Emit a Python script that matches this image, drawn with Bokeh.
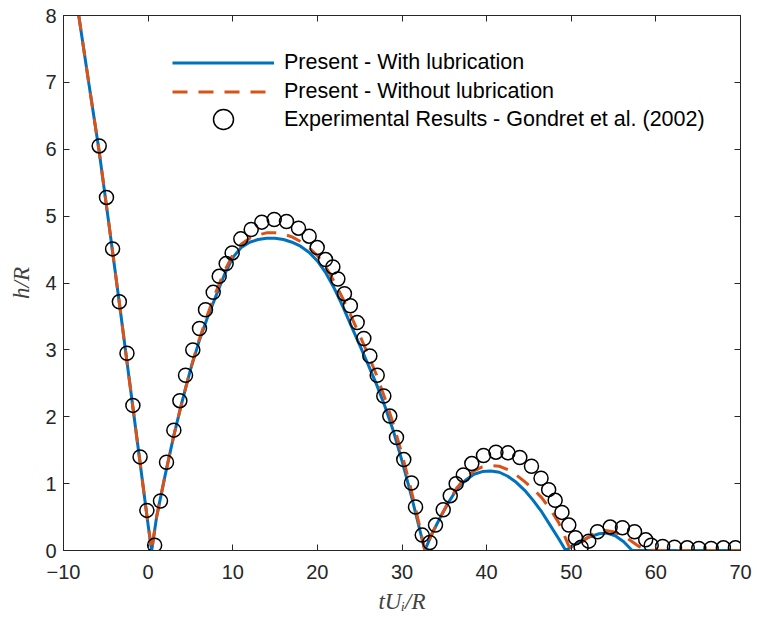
from bokeh.plotting import figure
from bokeh.models import (LinearAxis, Legend, LegendItem, Range1d, FixedTicker,
                          ColumnDataSource)
from bokeh.embed import file_html
from bokeh.resources import INLINE

# ---------------- data ----------------
x_ticks = [-10, 0, 10, 20, 30, 40, 50, 60, 70]
y_ticks = [0, 1, 2, 3, 4, 5, 6, 7, 8]

exp_x = [-5.78, -4.92, -4.2, -3.4, -2.5, -1.8, -0.95, -0.15, 0.77, 1.46, 2.17, 3.04, 3.75,
         4.42, 5.28, 6.07, 6.78, 7.69, 8.4, 9.22, 9.93, 10.95, 12.18, 13.43, 14.9, 16.35,
         17.77, 19.03, 19.98, 20.96, 21.83, 22.42, 23.2, 23.9, 24.7, 25.49, 26.2, 27.07,
         27.85, 28.56, 29.35, 30.21, 31.12, 31.6, 32.39, 33.29, 33.96, 34.87, 35.7, 36.4,
         37.25, 38.25, 39.63, 41.1, 42.52, 43.92, 45.3, 46.43, 47.33, 48.1, 48.9, 49.71,
         50.5, 51.17, 52.07, 53.1, 54.6, 56.05, 57.48, 58.8, 59.45, 60.8, 62.2, 63.7,
         65.07, 66.53, 67.98, 69.4]
exp_y = [6.05, 5.28, 4.51, 3.72, 2.95, 2.17, 1.40, 0.60, 0.08, 0.74, 1.32, 1.80, 2.24,
         2.62, 3.00, 3.32, 3.60, 3.86, 4.10, 4.29, 4.45, 4.66, 4.80, 4.91, 4.95, 4.92,
         4.82, 4.70, 4.53, 4.35, 4.24, 4.06, 3.84, 3.66, 3.41, 3.17, 2.91, 2.62,
         2.31, 2.01, 1.69, 1.36, 1.01, 0.65, 0.23, 0.12, 0.38, 0.61, 0.82, 1.00,
         1.13, 1.30, 1.42, 1.47, 1.46, 1.39, 1.26, 1.08, 0.91, 0.75, 0.57, 0.38,
         0.19, 0.05, 0.14, 0.28, 0.35, 0.34, 0.28, 0.16, 0.08, 0.06, 0.05, 0.04,
         0.03, 0.03, 0.04, 0.04]

with_x = [-8.2, -7.0, -5.8, -4.6, -3.4, -2.2, -1.0, 0.0, 0.42, 1, 2, 3, 4, 5, 6, 7, 8, 9,
          10, 11, 12, 13, 14, 15, 16, 17, 18, 19, 20, 21, 22, 23, 24, 25, 26, 27, 28, 29,
          30, 31, 32, 32.7, 33.5, 34.5, 35.5, 36.5, 37.5, 38.5, 39.5, 40.5, 41.5, 42.5,
          43.5, 44.5, 45.5, 46.5, 47.5, 48.5, 49.35, 50.3, 51.3, 52.3, 53.3, 54.2, 55.2,
          56.2, 57.2, 60, 65, 70]
with_y = [8.0, 6.98, 5.98, 4.85, 3.7, 2.53, 1.36, 0.38, 0.0, 0.5, 1.12, 1.7, 2.22, 2.7,
          3.12, 3.48, 3.8, 4.12, 4.38, 4.53, 4.61, 4.65, 4.67, 4.67, 4.65, 4.61, 4.55,
          4.46, 4.33, 4.15, 3.92, 3.65, 3.36, 3.07, 2.78, 2.48, 2.15, 1.78, 1.34, 0.87,
          0.36, 0.0, 0.24, 0.49, 0.72, 0.92, 1.05, 1.14, 1.18, 1.19, 1.17, 1.11, 1.02,
          0.9, 0.75, 0.58, 0.38, 0.18, 0.0, 0.08, 0.15, 0.21, 0.25, 0.26, 0.22, 0.13,
          0.0, 0.0, 0.0, 0.0]

without_x = [-8.2, -7.0, -5.8, -4.6, -3.4, -2.2, -1.0, 0.0, 0.42, 1, 2, 3, 4, 5, 6, 7, 8,
             9, 10, 11, 12, 13, 14, 15, 16, 17, 18, 19, 20, 21, 22, 23, 24, 25, 26, 27, 28,
             29, 30, 31, 32, 32.7, 33.5, 34.5, 35.5, 36.5, 37.5, 38.5, 39.5, 40.5, 41.5,
             42.5, 43.5, 44.5, 45.5, 46.5, 47.5, 48.5, 49.2, 49.7, 50.2, 51, 52, 53, 54,
             55, 56, 57, 58, 59, 60, 65, 70]
without_y = [8.0, 6.98, 5.98, 4.85, 3.7, 2.53, 1.36, 0.38, 0.0, 0.5, 1.12, 1.7, 2.22, 2.71,
             3.14, 3.52, 3.86, 4.17, 4.42, 4.58, 4.67, 4.72, 4.75, 4.75, 4.73, 4.69, 4.62,
             4.53, 4.41, 4.24, 4.02, 3.77, 3.5, 3.22, 2.93, 2.62, 2.27, 1.88, 1.44, 0.95,
             0.41, 0.0, 0.24, 0.49, 0.73, 0.94, 1.09, 1.19, 1.25, 1.27, 1.26, 1.21, 1.13,
             1.03, 0.92, 0.79, 0.62, 0.42, 0.22, 0.07, 0.03, 0.1, 0.2, 0.27, 0.3, 0.28,
             0.23, 0.15, 0.06, 0.01, 0.0, 0.0, 0.0]

labels = ["Present - With lubrication",
          "Present - Without lubrication",
          "Experimental Results - Gondret et al. (2002)"]

BLUE = "#0072BD"
ORANGE = "#D95319"
AX = "#262626"

# ---------------- figure ----------------
p = figure(frame_width=677, frame_height=535,
           x_range=Range1d(-10, 70), y_range=Range1d(0, 8),
           output_backend="svg", toolbar_location=None,
           min_border_left=63, min_border_top=15, min_border_right=12,
           min_border_bottom=0)

p.xgrid.visible = False
p.ygrid.visible = False
p.outline_line_color = AX
p.outline_line_width = 1
p.background_fill_color = "white"
p.border_fill_color = "white"

p.xaxis.ticker = FixedTicker(ticks=x_ticks)
p.yaxis.ticker = FixedTicker(ticks=y_ticks)

for ax in (p.xaxis[0], p.yaxis[0]):
    ax.major_tick_in = 6
    ax.major_tick_out = 0
    ax.minor_tick_in = 0
    ax.minor_tick_out = 0
    ax.axis_line_color = AX
    ax.major_tick_line_color = AX
    ax.major_label_text_font = "Liberation Sans"
    ax.major_label_text_font_size = "20px"
    ax.major_label_text_color = AX
    ax.axis_label_text_font = "Liberation Serif"
    ax.axis_label_text_font_style = "italic"
    ax.axis_label_text_font_size = "23px"
    ax.axis_label_text_color = "#404040"

p.xaxis.axis_label = "tUᵢ/R"
p.yaxis.axis_label = "h/R"
p.xaxis.major_label_standoff = 14
p.xaxis.axis_label_standoff = 7
p.yaxis.major_label_standoff = 7
p.yaxis.axis_label_standoff = 8

top = LinearAxis(ticker=FixedTicker(ticks=x_ticks), major_label_text_font_size="0px",
                 major_label_text_alpha=0, major_label_standoff=0,
                 major_tick_in=6, major_tick_out=0, minor_tick_in=0, minor_tick_out=0,
                 axis_line_color=AX, major_tick_line_color=AX)
right = LinearAxis(ticker=FixedTicker(ticks=y_ticks), major_label_text_font_size="0px",
                   major_label_text_alpha=0, major_label_standoff=0,
                   major_tick_in=6, major_tick_out=0, minor_tick_in=0, minor_tick_out=0,
                   axis_line_color=AX, major_tick_line_color=AX)
p.add_layout(top, "above")
p.add_layout(right, "right")

# ---------------- glyphs ----------------
r_with = p.line(with_x, with_y, line_color=BLUE, line_width=3)
r_without = p.line(without_x, without_y, line_color=ORANGE, line_width=3,
                   line_dash="15 11")
src = ColumnDataSource(data=dict(x=exp_x, y=exp_y))
r_exp = p.scatter("x", "y", source=src, marker="circle", size=14,
                  line_color="black", line_width=1.5, fill_alpha=0)

legend_style = dict(glyph_width=102, label_height=21, label_standoff=10, spacing=4,
                    padding=0, margin=0, border_line_alpha=0, background_fill_alpha=0,
                    label_text_font="Liberation Sans", label_text_font_size="21.5px",
                    label_text_color="black")

legend_lines = Legend(items=[LegendItem(label=labels[0], renderers=[r_with]),
                             LegendItem(label=labels[1], renderers=[r_without])],
                      location=(109, 446), glyph_height=21, **legend_style)
# taller glyph box so that the legend circle is drawn larger than the data markers
legend_exp = Legend(items=[LegendItem(label=labels[2], renderers=[r_exp])],
                    location=(109, 406), glyph_height=50, **legend_style)
p.add_layout(legend_lines)
p.add_layout(legend_exp)

open("out.html", "w").write(file_html(p, INLINE))
